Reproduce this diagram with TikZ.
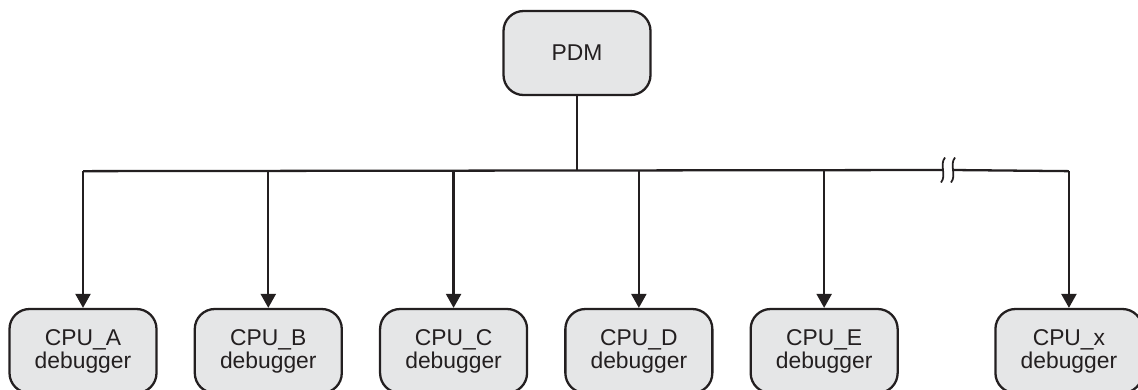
\documentclass[tikz,border=0pt]{standalone}
\usepackage{fontspec}
\setmainfont{Liberation Sans}
\usetikzlibrary{positioning, arrows.meta, calc}
\definecolor{boxgray}{RGB}{229,230,231}
\definecolor{ink}{RGB}{35,31,32}

\begin{document}
\begin{tikzpicture}[
      dbg/.style={draw=ink, line width=1.3pt, rounded corners=0.4cm, fill=boxgray, text=ink,
        minimum width=2.94cm, minimum height=1.68cm, align=center, inner sep=2pt,
        font=\fontsize{13}{12}\selectfont},
      link/.style={draw=ink, line width=1.3pt},
      feed/.style={link, -{Triangle[length=0.28cm, width=0.3cm]}},
      node distance=0.72cm
    ]
      \useasboundingbox (0,0) rectangle (22.76,-7.78);

      \node[dbg] (pdm) at (11.54,-1.06) {PDM};

      \node[dbg] (cpuA) at (1.66,-7.02) {CPU\_A\\debugger};
      \node[dbg, right=of cpuA] (cpuB) {CPU\_B\\debugger};
      \node[dbg, right=of cpuB] (cpuC) {CPU\_C\\debugger};
      \node[dbg, right=of cpuC] (cpuD) {CPU\_D\\debugger};
      \node[dbg, right=of cpuD] (cpuE) {CPU\_E\\debugger};
      \node[dbg, right=1.91cm of cpuE] (cpux) {CPU\_x\\debugger};

      % bus
      \coordinate[below=1.5cm of pdm.south] (bus);
      \coordinate (brkL) at (18.86,-3.4);
      \coordinate (brkR) at (19.06,-3.4);
      \draw[link] (pdm) -- (bus);
      \draw[link] (cpuA |- bus) -- (brkL);
      \draw[link] (brkR) -- (cpux |- bus);
      \draw[link, line width=1pt] ($(brkL)+(0.04,0.25)$) .. controls ($(brkL)+(-0.08,0.1)$) and ($(brkL)+(0.08,-0.1)$) .. ($(brkL)+(-0.04,-0.25)$);
      \draw[link, line width=1pt] ($(brkR)+(0.04,0.25)$) .. controls ($(brkR)+(-0.08,0.1)$) and ($(brkR)+(0.08,-0.1)$) .. ($(brkR)+(-0.04,-0.25)$);

      \foreach \c in {A,B,C,D,E,x}
        \draw[feed] (cpu\c |- bus) -- (cpu\c);
    \end{tikzpicture}
\end{document}
